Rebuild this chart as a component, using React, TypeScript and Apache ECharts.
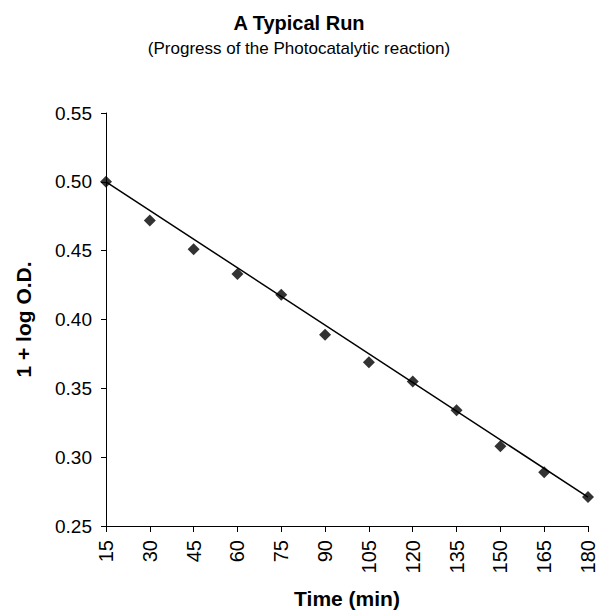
import React, { useEffect, useRef } from "react";
import * as echarts from "echarts";

const times = [15, 30, 45, 60, 75, 90, 105, 120, 135, 150, 165, 180];
const logOD = [0.5, 0.472, 0.451, 0.433, 0.418, 0.389, 0.369, 0.355, 0.334, 0.308, 0.289, 0.271];
const trendTimes = [15, 180];
const trendValues = [0.5, 0.271];

const FONT = "Liberation Sans, Arial, sans-serif";

export default function App() {
  const ref = useRef<HTMLDivElement>(null);
  useEffect(() => {
    document.body.style.margin = "0";
    const chart = echarts.init(ref.current!, undefined, { renderer: "svg" });
    chart.setOption({
      animation: false,
      backgroundColor: "#ffffff",
      title: [
        {
          text: "A Typical Run",
          left: "center",
          top: 8,
          textStyle: { fontFamily: FONT, fontSize: 20, fontWeight: "bold", color: "#000" },
        },
        {
          text: "(Progress of the Photocatalytic reaction)",
          left: "center",
          top: 35,
          textStyle: { fontFamily: FONT, fontSize: 17, fontWeight: "normal", color: "#000" },
        },
      ],
      grid: { left: 106, right: 8, top: 113, bottom: 88, containLabel: false },
      xAxis: {
        type: "value",
        min: 15,
        max: 180,
        interval: 15,
        name: "Time (min)",
        nameLocation: "middle",
        nameGap: 62,
        nameTextStyle: { fontFamily: FONT, fontSize: 21, fontWeight: "bold", color: "#000" },
        axisLine: { show: true, lineStyle: { color: "#000", width: 1 } },
        axisTick: { show: true, length: 6, lineStyle: { color: "#000" } },
        axisLabel: { rotate: 90, fontFamily: FONT, fontSize: 20, color: "#000", margin: 14 },
        splitLine: { show: false },
      },
      yAxis: {
        type: "value",
        min: 0.25,
        max: 0.55,
        interval: 0.05,
        name: "1 + log O.D.",
        nameLocation: "middle",
        nameGap: 72,
        nameRotate: 90,
        nameTextStyle: { fontFamily: FONT, fontSize: 21, fontWeight: "bold", color: "#000" },
        axisLine: { show: true, lineStyle: { color: "#000", width: 1 } },
        axisTick: { show: true, length: 5, lineStyle: { color: "#000" } },
        axisLabel: {
          fontFamily: FONT,
          fontSize: 19,
          color: "#000",
          margin: 14,
          formatter: (v: number) => v.toFixed(2),
        },
        splitLine: { show: false },
      },
      series: [
        {
          type: "line",
          data: trendTimes.map((t, i) => [t, trendValues[i]]),
          symbol: "none",
          lineStyle: { color: "#000", width: 1.5 },
          z: 2,
        },
        {
          type: "scatter",
          data: times.map((t, i) => [t, logOD[i]]),
          symbol: "diamond",
          symbolSize: 12,
          itemStyle: { color: "#000" },
          clip: false,
          z: 3,
        },
      ],
    });
    return () => chart.dispose();
  }, []);
  return <div ref={ref} style={{ width: 598, height: 614 }} />;
}
